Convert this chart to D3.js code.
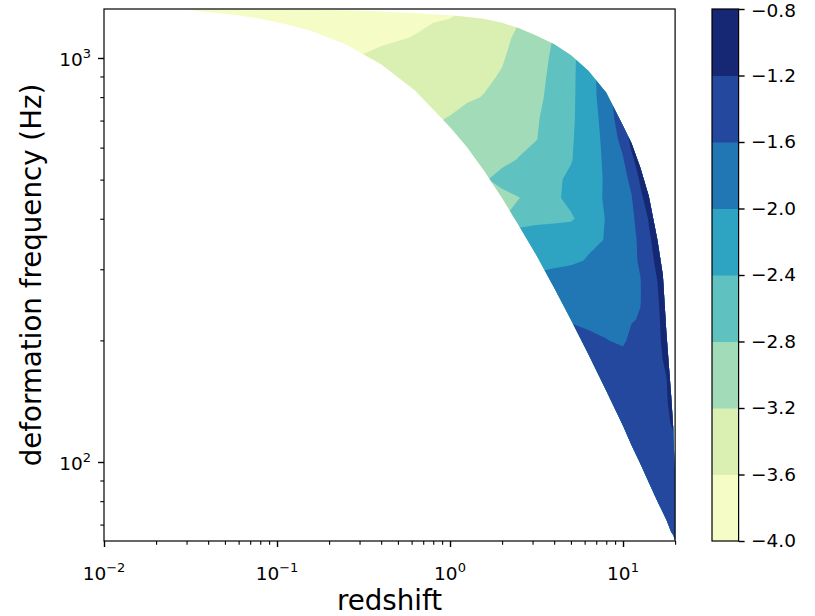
<!DOCTYPE html>
<html>
<head>
<meta charset="utf-8">
<script src="https://cdn.jsdelivr.net/npm/d3@7"></script>
<style>
  html, body { margin: 0; padding: 0; background: #ffffff; }
  svg { display: block; }
  text { font-family: "DejaVu Sans", sans-serif; fill: #000; }
</style>
</head>
<body>
<svg id="chart" width="815" height="616"></svg>
<script>
// ---------------- data ----------------
// grid columns (redshift) and rows (deformation frequency, Hz)
const redshift = [0.01, 0.02, 0.04, 0.08, 0.16, 0.25, 0.4, 0.63, 0.8, 1.0, 1.26, 1.58, 2.0, 2.5, 3.16, 4.0, 5.0, 6.3, 8.0, 10, 11.2, 12.6, 14.1, 15.8, 17.8, 20];
const frequency = [64, 70, 80, 90, 100, 112, 125, 140, 160, 180, 200, 225, 250, 280, 315, 355, 400, 450, 500, 560, 630, 710, 800, 900, 1000, 1120, 1250, 1320];

// log10 values on the grid, one row per frequency (low -> high)
const row64   = [-2.70,-2.50,-2.30,-2.10,-1.95,-1.85,-1.78,-1.72,-1.68,-1.65,-1.62,-1.60,-1.59,-1.58,-1.57,-1.57,-1.56,-1.56,-1.56,-1.56,-1.55,-1.55,-1.54,-1.53,-1.50,-1.45];
const row70   = [-2.80,-2.60,-2.40,-2.20,-2.00,-1.90,-1.80,-1.74,-1.69,-1.65,-1.62,-1.60,-1.58,-1.57,-1.56,-1.56,-1.55,-1.55,-1.55,-1.55,-1.54,-1.54,-1.53,-1.52,-1.48,-1.42];
const row80   = [-2.90,-2.70,-2.50,-2.30,-2.10,-1.95,-1.85,-1.76,-1.70,-1.66,-1.62,-1.60,-1.58,-1.57,-1.56,-1.55,-1.55,-1.55,-1.54,-1.54,-1.53,-1.53,-1.52,-1.50,-1.45,-1.38];
const row90   = [-3.00,-2.80,-2.60,-2.40,-2.20,-2.00,-1.90,-1.80,-1.72,-1.67,-1.63,-1.60,-1.58,-1.56,-1.55,-1.55,-1.54,-1.54,-1.54,-1.53,-1.53,-1.52,-1.50,-1.47,-1.42,-1.35];
const row100  = [-3.10,-2.90,-2.70,-2.50,-2.30,-2.10,-1.95,-1.85,-1.76,-1.70,-1.65,-1.61,-1.58,-1.56,-1.55,-1.54,-1.54,-1.53,-1.53,-1.53,-1.52,-1.50,-1.48,-1.45,-1.40,-1.32];
const row112  = [-3.20,-3.00,-2.80,-2.60,-2.40,-2.20,-2.00,-1.90,-1.80,-1.72,-1.66,-1.62,-1.58,-1.56,-1.55,-1.54,-1.53,-1.53,-1.52,-1.52,-1.50,-1.48,-1.45,-1.42,-1.36,-1.24];
const row125  = [-3.30,-3.10,-2.90,-2.70,-2.50,-2.30,-2.10,-1.95,-1.85,-1.76,-1.70,-1.64,-1.60,-1.57,-1.55,-1.53,-1.52,-1.52,-1.51,-1.50,-1.48,-1.45,-1.42,-1.38,-1.30,-1.08];
const row140  = [-3.40,-3.20,-3.00,-2.80,-2.60,-2.40,-2.20,-2.00,-1.90,-1.80,-1.72,-1.66,-1.60,-1.56,-1.53,-1.51,-1.50,-1.50,-1.49,-1.47,-1.45,-1.42,-1.38,-1.34,-1.24,-1.00];
const row160  = [-3.50,-3.30,-3.10,-2.90,-2.70,-2.50,-2.30,-2.10,-1.95,-1.85,-1.75,-1.68,-1.62,-1.56,-1.52,-1.50,-1.48,-1.47,-1.47,-1.46,-1.43,-1.40,-1.36,-1.32,-1.21,-0.95];
const row180  = [-3.60,-3.40,-3.20,-3.00,-2.80,-2.60,-2.40,-2.20,-2.05,-1.95,-1.85,-1.75,-1.65,-1.58,-1.52,-1.48,-1.45,-1.47,-1.50,-1.50,-1.45,-1.40,-1.34,-1.28,-1.14,-0.88];
const row200  = [-3.70,-3.50,-3.30,-3.10,-2.90,-2.70,-2.50,-2.30,-2.15,-2.00,-1.90,-1.80,-1.70,-1.62,-1.55,-1.50,-1.45,-1.52,-1.59,-1.65,-1.52,-1.45,-1.36,-1.30,-1.04,-0.85];
const row225  = [-3.80,-3.55,-3.40,-3.25,-3.05,-2.90,-2.70,-2.45,-2.30,-2.20,-2.10,-2.00,-1.92,-1.85,-1.78,-1.70,-1.63,-1.68,-1.70,-1.66,-1.62,-1.58,-1.43,-1.26,-1.05,-0.85];
const row250  = [-4.00,-3.58,-3.45,-3.31,-3.15,-3.02,-2.88,-2.68,-2.54,-2.40,-2.30,-2.21,-2.10,-2.01,-1.95,-1.89,-1.83,-1.78,-1.72,-1.66,-1.63,-1.61,-1.42,-1.24,-1.00,-0.85];
const row280  = [-4.00,-3.63,-3.48,-3.35,-3.22,-3.08,-2.93,-2.76,-2.62,-2.48,-2.36,-2.20,-2.05,-1.95,-1.90,-1.86,-1.83,-1.79,-1.73,-1.66,-1.63,-1.61,-1.40,-1.20,-0.94,-0.85];
const row315  = [-4.00,-3.68,-3.50,-3.38,-3.25,-3.13,-2.98,-2.82,-2.73,-2.65,-2.57,-2.45,-2.30,-2.20,-2.12,-2.08,-2.05,-1.98,-1.84,-1.72,-1.66,-1.57,-1.33,-1.11,-0.85,-0.85];
const row355  = [-4.00,-3.73,-3.53,-3.41,-3.29,-3.21,-3.05,-2.88,-2.78,-2.67,-2.55,-2.44,-2.30,-2.20,-2.16,-2.13,-2.10,-2.05,-1.99,-1.78,-1.68,-1.54,-1.26,-1.03,-0.85,-0.85];
const row400  = [-4.00,-3.76,-3.57,-3.47,-3.37,-3.30,-3.24,-3.14,-3.07,-3.01,-2.94,-2.88,-2.83,-2.55,-2.50,-2.48,-2.45,-2.22,-1.98,-1.76,-1.66,-1.47,-1.17,-0.94,-0.85,-0.85];
const row450  = [-4.00,-3.78,-3.58,-3.48,-3.38,-3.31,-3.24,-3.15,-3.09,-3.04,-2.98,-2.92,-2.87,-2.81,-2.66,-2.47,-2.30,-2.14,-1.96,-1.73,-1.62,-1.29,-1.00,-0.85,-0.85,-0.85];
const row500  = [-4.00,-3.80,-3.61,-3.49,-3.37,-3.30,-3.22,-3.10,-3.02,-2.96,-2.89,-2.82,-2.73,-2.64,-2.55,-2.46,-2.34,-2.16,-1.96,-1.70,-1.53,-1.14,-0.88,-0.85,-0.85,-0.85];
const row560  = [-4.00,-3.82,-3.64,-3.51,-3.40,-3.32,-3.24,-3.15,-3.09,-3.03,-2.97,-2.92,-2.85,-2.79,-2.67,-2.54,-2.42,-2.20,-1.93,-1.63,-1.28,-1.00,-0.85,-0.85,-0.85,-0.85];
const row630  = [-4.00,-3.85,-3.69,-3.56,-3.44,-3.36,-3.29,-3.21,-3.16,-3.10,-3.04,-2.98,-2.92,-2.86,-2.81,-2.62,-2.44,-2.20,-1.90,-1.47,-1.07,-0.85,-0.85,-0.85,-0.85,-0.85];
const row710  = [-4.00,-3.87,-3.75,-3.62,-3.51,-3.43,-3.35,-3.27,-3.23,-3.19,-3.12,-3.05,-2.97,-2.90,-2.83,-2.66,-2.46,-2.20,-1.85,-1.32,-1.04,-0.85,-0.85,-0.85,-0.85,-0.85];
const row800  = [-4.00,-3.89,-3.79,-3.68,-3.57,-3.50,-3.43,-3.35,-3.31,-3.27,-3.23,-3.19,-3.08,-2.98,-2.87,-2.70,-2.47,-2.19,-1.78,-1.26,-1.01,-0.85,-0.85,-0.85,-0.85,-0.85];
const row900  = [-4.00,-3.91,-3.82,-3.72,-3.63,-3.56,-3.48,-3.40,-3.36,-3.32,-3.28,-3.24,-3.18,-3.04,-2.90,-2.72,-2.48,-2.18,-1.76,-1.26,-1.01,-0.85,-0.85,-0.85,-0.85,-0.85];
const row1000 = [-4.00,-3.92,-3.84,-3.75,-3.67,-3.62,-3.54,-3.45,-3.40,-3.36,-3.31,-3.27,-3.22,-3.11,-2.94,-2.74,-2.49,-2.18,-1.76,-1.26,-1.01,-0.85,-0.85,-0.85,-0.85,-0.85];
const row1120 = [-4.00,-3.93,-3.87,-3.80,-3.73,-3.69,-3.64,-3.59,-3.52,-3.45,-3.39,-3.32,-3.25,-3.16,-2.98,-2.78,-2.51,-2.19,-1.76,-1.26,-1.01,-0.85,-0.85,-0.85,-0.85,-0.85];
const row1250 = [-4.00,-3.94,-3.88,-3.82,-3.76,-3.72,-3.68,-3.64,-3.62,-3.60,-3.50,-3.41,-3.30,-3.21,-3.02,-2.81,-2.52,-2.19,-1.76,-1.26,-1.01,-0.85,-0.85,-0.85,-0.85,-0.85];
const row1320 = [-4.00,-3.94,-3.89,-3.83,-3.77,-3.73,-3.70,-3.66,-3.64,-3.62,-3.59,-3.47,-3.34,-3.22,-3.04,-2.82,-2.53,-2.19,-1.76,-1.26,-1.01,-0.85,-0.85,-0.85,-0.85,-0.85];
const gridRows = [row64,row70,row80,row90,row100,row112,row125,row140,row160,row180,row200,row225,row250,row280,row315,row355,row400,row450,row500,row560,row630,row710,row800,row900,row1000,row1120,row1250,row1320];

// valid-region edges (outside is masked / white)
const edgeRedshift = [0.025, 0.03, 0.04, 0.06, 0.08, 0.12, 0.16, 0.25, 0.4, 0.63, 1.0, 1.26, 1.58, 2.0, 2.5, 3.16, 4.0, 5.0, 6.3, 8.0, 10, 11.2, 12.6, 14.1, 15.8, 17.0, 17.8, 19.0, 19.5, 20];
const edgeLowHz  = [1320, 1316, 1300, 1275, 1250, 1205, 1165, 1080, 965, 830, 675, 600, 525, 450, 385, 325, 270, 225, 185, 150, 123, 110, 99, 89, 80, 75, 72, 67, 66, 64];
const edgeHighHz = [1320, 1320, 1320, 1320, 1318, 1316, 1314, 1312, 1303, 1290, 1275, 1263, 1248, 1222, 1184, 1135, 1082, 1015, 930, 820, 680, 615, 535, 455, 355, 290, 210, 145, 122, 90];

// contour levels and colours (YlGnBu)
const levels = [-4.0, -3.6, -3.2, -2.8, -2.4, -2.0, -1.6, -1.2, -0.8];
const levelColors = ["#f6fcc5", "#daf0b2", "#a2dbb8", "#5fc1c0", "#2ea3c2", "#2077b4", "#24489e", "#162874"];

// ticks
const xMajorTicks = [0.01, 0.1, 1, 10];
const xMajorExp = ["\u22122", "\u22121", "0", "1"];
const yMajorTicks = [100, 1000];
const yMajorExp = ["2", "3"];

// ---------------- layout ----------------
const plot = { left: 104, right: 675.1, top: 9, bottom: 541 };
const cbar = { left: 712, right: 738.6, top: 9, bottom: 541 };
const tickFont = "18.5px", supFont = "13px", labelFont = "27.7px";

const svg = d3.select("#chart");
const x = d3.scaleLog().domain([0.01, 20]).range([plot.left, plot.right]);
const y = d3.scaleLog().domain([63.75, 1322]).range([plot.bottom, plot.top]);

// ---------------- contours ----------------
const nx = redshift.length, ny = frequency.length;
const flat = [];
gridRows.forEach(r => r.forEach(v => flat.push(v)));
const lz = redshift.map(Math.log10), lf = frequency.map(Math.log10);
function idxToLog(arr, t) {
  t = Math.max(0, Math.min(arr.length - 1, t));
  const k = Math.min(arr.length - 2, Math.floor(t));
  return arr[k] + (arr[k + 1] - arr[k]) * (t - k);
}
const proj = d3.geoTransform({
  point(u, v) {
    this.stream.point(x(Math.pow(10, idxToLog(lz, u - 0.5))), y(Math.pow(10, idxToLog(lf, v - 0.5))));
  }
});
const geo = d3.geoPath(proj);
const bands = d3.contours().size([nx, ny]).thresholds(levels.slice(0, -1))(flat);

const defs = svg.append("defs");
const upper = edgeRedshift.map((z, k) => [x(z), y(edgeHighHz[k])]);
const lower = edgeRedshift.map((z, k) => [x(z), y(edgeLowHz[k])]).reverse();
defs.append("clipPath").attr("id", "validMask")
  .append("path").attr("d", d3.line()(upper.concat(lower)) + "Z");
defs.append("clipPath").attr("id", "plotArea")
  .append("rect").attr("x", plot.left).attr("y", plot.top)
  .attr("width", plot.right - plot.left).attr("height", plot.bottom - plot.top);

const gPlot = svg.append("g").attr("clip-path", "url(#plotArea)")
  .append("g").attr("clip-path", "url(#validMask)");
gPlot.selectAll("path").data(bands).join("path")
  .attr("d", geo)
  .attr("fill", (d, i) => levelColors[i])
  .attr("fill-rule", "evenodd")
  .attr("stroke", "none");

// ---------------- axes ----------------
function styleAxis(g, w) {
  g.select(".domain").remove();
  g.selectAll(".tick line").attr("stroke", "#000").attr("stroke-width", w);
  g.selectAll(".tick text").remove();
}
const xMinor = [];
[-2, -1, 0, 1].forEach(e => { for (let k = 2; k <= 9; k++) { const v = k * Math.pow(10, e); if (v <= 20.0001) xMinor.push(v); } });
const yMinor = [70, 80, 90, 200, 300, 400, 500, 600, 700, 800, 900];

svg.append("g").attr("transform", `translate(0,${plot.bottom})`)
  .call(d3.axisBottom(x).tickValues(xMinor).tickSize(3.7).tickFormat(""))
  .call(g => styleAxis(g, 1.1));
svg.append("g").attr("transform", `translate(0,${plot.bottom})`)
  .call(d3.axisBottom(x).tickValues(xMajorTicks).tickSize(6).tickFormat(""))
  .call(g => styleAxis(g, 1.4));
svg.append("g").attr("transform", `translate(${plot.left},0)`)
  .call(d3.axisLeft(y).tickValues(yMinor).tickSize(3.7).tickFormat(""))
  .call(g => styleAxis(g, 1.1));
svg.append("g").attr("transform", `translate(${plot.left},0)`)
  .call(d3.axisLeft(y).tickValues(yMajorTicks).tickSize(6).tickFormat(""))
  .call(g => styleAxis(g, 1.4));

xMajorTicks.forEach((t, k) => {
  const tx = svg.append("text").attr("x", x(t)).attr("y", 580)
    .attr("text-anchor", "middle").attr("font-size", tickFont).text("10");
  tx.append("tspan").attr("dy", -8).attr("font-size", supFont).text(xMajorExp[k]);
});
yMajorTicks.forEach((t, k) => {
  const ty = svg.append("text").attr("x", plot.left - 13).attr("y", y(t) + 8)
    .attr("text-anchor", "end").attr("font-size", tickFont).text("10");
  ty.append("tspan").attr("dy", -8).attr("font-size", supFont).text(yMajorExp[k]);
});

svg.append("rect").attr("x", plot.left).attr("y", plot.top)
  .attr("width", plot.right - plot.left).attr("height", plot.bottom - plot.top)
  .attr("fill", "none").attr("stroke", "#000").attr("stroke-width", 1.2);

svg.append("text").attr("x", (plot.left + plot.right) / 2).attr("y", 610)
  .attr("text-anchor", "middle").attr("font-size", labelFont).text("redshift");
svg.append("text").attr("transform", `translate(41,${(plot.top + plot.bottom) / 2}) rotate(-90)`)
  .attr("text-anchor", "middle").attr("font-size", labelFont).text("deformation frequency (Hz)");

// ---------------- colorbar ----------------
const cb = d3.scaleLinear().domain([levels[0], levels[levels.length - 1]]).range([cbar.bottom, cbar.top]);
svg.append("g").selectAll("rect").data(levelColors).join("rect")
  .attr("x", cbar.left).attr("width", cbar.right - cbar.left)
  .attr("y", (c, i) => cb(levels[i + 1]))
  .attr("height", (c, i) => cb(levels[i]) - cb(levels[i + 1]) + 0.5)
  .attr("fill", c => c);
svg.append("rect").attr("x", cbar.left).attr("y", cbar.top)
  .attr("width", cbar.right - cbar.left).attr("height", cbar.bottom - cbar.top)
  .attr("fill", "none").attr("stroke", "#000").attr("stroke-width", 1.2);
const gcb = svg.append("g").attr("transform", `translate(${cbar.right},0)`)
  .call(d3.axisRight(cb).tickValues(levels).tickSize(6).tickPadding(6.5).tickFormat(d3.format(".1f")));
gcb.select(".domain").remove();
gcb.selectAll(".tick line").attr("stroke", "#000").attr("stroke-width", 1.4);
gcb.selectAll(".tick text").attr("font-size", tickFont).attr("font-family", "DejaVu Sans, sans-serif").attr("fill", "#000")
  .attr("dy", d => d === levels[levels.length - 1] ? "0.42em" : "0.32em");
</script>
</body>
</html>
